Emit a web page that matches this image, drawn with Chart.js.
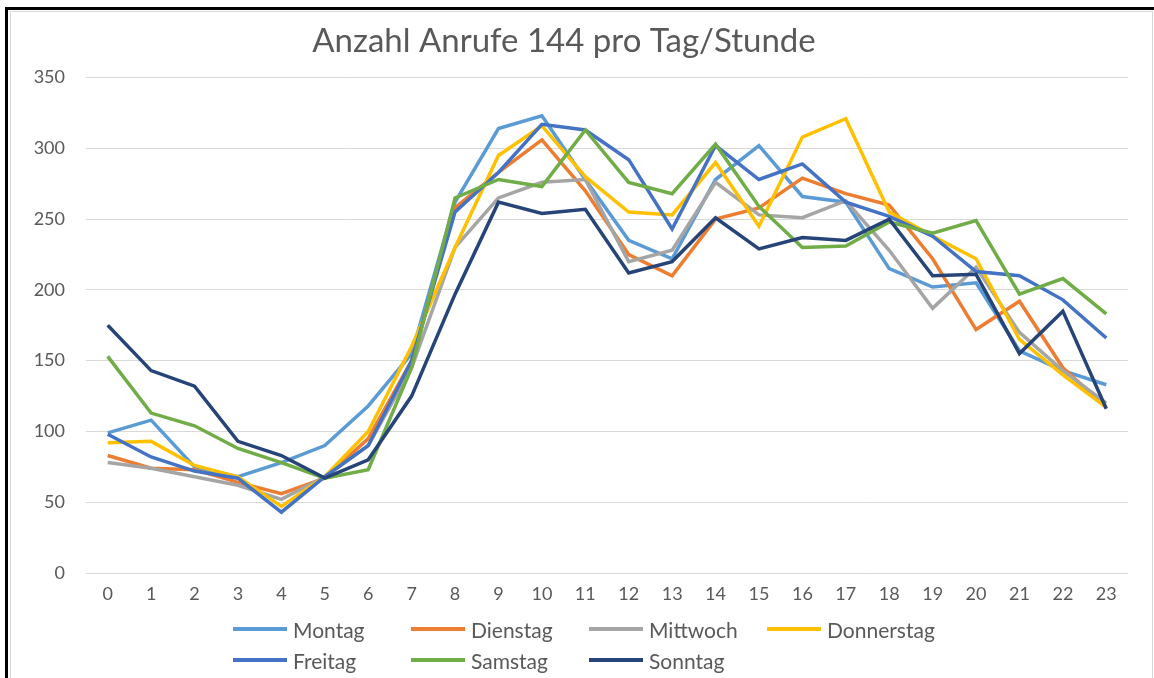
<!DOCTYPE html>
<html lang="de">
<head>
<meta charset="utf-8">
<title>Anzahl Anrufe 144 pro Tag/Stunde</title>
<script src="https://cdn.jsdelivr.net/npm/chart.js@4.4.1/dist/chart.umd.min.js"></script>
<style>
  html, body { margin: 0; padding: 0; background: #fff; overflow: hidden; }
  body { width: 1154px; height: 678px; position: relative; font-family: Lato, "Liberation Sans", sans-serif; }
  #rahmen { position: absolute; left: 5px; top: 7px; width: 1160px; height: 700px; border-top: 3px solid #000; border-left: 3px solid #000; }
  #innen { position: absolute; left: 10px; top: 11px; width: 1141px; height: 700px; border: 1px solid #d9d9d9; }
  #grafik { position: absolute; left: 0; top: 0; }
  #legende { position: absolute; left: 0; top: 0; width: 1154px; height: 678px; pointer-events: none; }
  .eintrag { position: absolute; display: flex; align-items: center; height: 26px; color: #595959; font-size: 21px; }
  .eintrag span.linie { display: inline-block; width: 54px; height: 4px; margin-right: 6px; }
</style>
</head>
<body>
<div id="rahmen"></div>
<div id="innen"></div>
<canvas id="grafik" width="1154" height="678"></canvas>
<div id="legende"></div>

<script>
// -------------------------------------------------------------
// Daten
// -------------------------------------------------------------
var stunden = ['0','1','2','3','4','5','6','7','8','9','10','11','12','13','14','15','16','17','18','19','20','21','22','23'];
var tage = ['Montag', 'Dienstag', 'Mittwoch', 'Donnerstag', 'Freitag', 'Samstag', 'Sonntag'];

var montag     = [99, 108, 75, 68, 78, 90, 118, 155, 262, 314, 323, 278, 235, 222, 278, 302, 266, 262, 215, 202, 205, 157, 143, 133];
var dienstag   = [83, 74, 73, 64, 56, 67, 95, 150, 258, 283, 306, 270, 225, 210, 250, 258, 279, 268, 260, 222, 172, 192, 145, 117];
var mittwoch   = [78, 74, 68, 62, 52, 68, 90, 145, 230, 265, 276, 278, 220, 228, 276, 253, 251, 263, 228, 187, 216, 170, 143, 120];
var donnerstag = [92, 93, 76, 68, 47, 68, 100, 160, 230, 295, 316, 280, 255, 253, 290, 245, 308, 321, 255, 238, 222, 165, 140, 117];
var freitag    = [98, 82, 72, 67, 43, 68, 90, 150, 255, 283, 317, 313, 292, 243, 302, 278, 289, 262, 252, 238, 213, 210, 193, 166];
var samstag    = [153, 113, 104, 88, 78, 67, 73, 145, 265, 278, 273, 313, 276, 268, 303, 259, 230, 231, 248, 240, 249, 197, 208, 183];
var sonntag    = [175, 143, 132, 93, 83, 67, 80, 125, 197, 262, 254, 257, 212, 220, 251, 229, 237, 235, 250, 210, 211, 155, 185, 116];

var reihen = [montag, dienstag, mittwoch, donnerstag, freitag, samstag, sonntag];
var farben = ['#5B9BD5', '#ED7D31', '#A5A5A5', '#FFC000', '#4472C4', '#70AD47', '#264478'];

var textFarbe = '#595959';
var schrift = 'Lato, "Liberation Sans", sans-serif';

// Datensaetze bauen (Sonntag zuletzt gezeichnet = oben, wie in Excel)
var datensaetze = tage.map(function (tag, i) {
  return {
    label: tag,
    data: reihen[i],
    borderColor: farben[i],
    backgroundColor: farben[i],
    borderWidth: 3.5,
    pointRadius: 0,
    tension: 0,
    fill: false,
    order: tage.length - i
  };
});

var ctx = document.getElementById('grafik').getContext('2d');
var diagramm = new Chart(ctx, {
  type: 'line',
  data: { labels: stunden, datasets: datensaetze },
  options: {
    responsive: false,
    animation: false,
    layout: { padding: { top: 22, right: 26, left: 0, bottom: 0 } },
    plugins: {
      legend: { display: false },
      tooltip: { enabled: false },
      title: {
        display: true,
        text: 'Anzahl Anrufe 144 pro Tag/Stunde',
        color: textFarbe,
        font: { family: schrift, size: 33, weight: 'normal' },
        padding: { top: 0, bottom: 16 }
      }
    },
    scales: {
      x: {
        offset: true,
        grid: { display: false, drawTicks: false },
        border: { display: false },
        ticks: { color: textFarbe, font: { family: schrift, size: 18 }, padding: 10, maxRotation: 0, autoSkip: false },
        afterFit: function (s) { s.height = 105; }
      },
      y: {
        min: 0,
        max: 350,
        grid: { color: '#D9D9D9', lineWidth: 1, drawTicks: false },
        border: { display: false },
        ticks: { stepSize: 50, color: textFarbe, font: { family: schrift, size: 18 }, padding: 21 },
        afterFit: function (s) { s.width = 86; }
      }
    }
  }
});

// -------------------------------------------------------------
// Legende in gleich breiten Spalten (wie Excel), aus den Datensaetzen
// -------------------------------------------------------------
var legende = document.getElementById('legende');
var spalten = 4, spaltenBreite = 178, startX = 233, zeile0 = 629, zeilenHoehe = 31;
diagramm.data.datasets.forEach(function (ds, i) {
  var el = document.createElement('div');
  el.className = 'eintrag';
  el.style.left = (startX + (i % spalten) * spaltenBreite) + 'px';
  el.style.top = (zeile0 + Math.floor(i / spalten) * zeilenHoehe - 13) + 'px';
  el.innerHTML = '<span class="linie" style="background:' + ds.borderColor + '"></span>' + ds.label;
  legende.appendChild(el);
});
</script>
</body>
</html>
